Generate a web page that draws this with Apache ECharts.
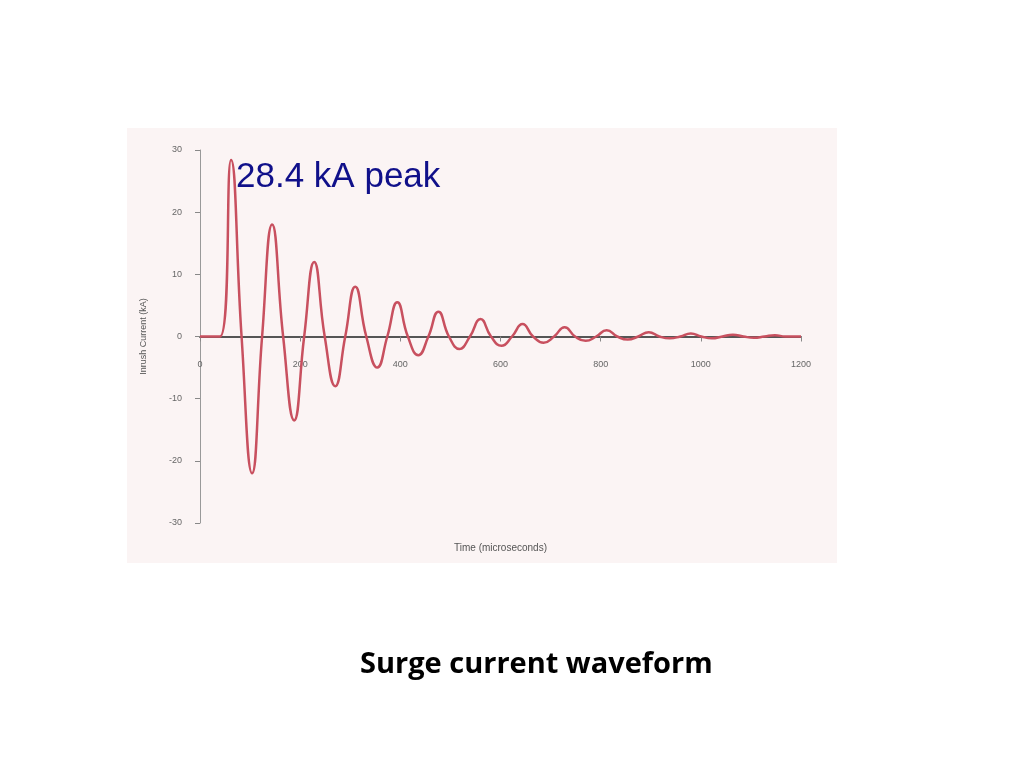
<!DOCTYPE html>
<html><head><meta charset="utf-8">
<script src="https://cdn.jsdelivr.net/npm/echarts@6/dist/echarts.min.js"></script>
<style>html,body{margin:0;background:#fff}#c{width:1024px;height:768px}</style>
</head><body><div id="c"></div>
<script>
const times = [0,40,62,83,104,124,144,166,188,208,228,249,270,290,310,332,354,374,394,415,436,456,476,497,518,539,560,581,602,623,644,665,686,707,728,749,770,791,812,833,854,875,896,917,938,959,980,1001,1022,1043,1064,1085,1106,1127,1148,1169,1200];
const current = [0,0,28.4,0,-22,0,18,0,-13.5,0,12,0,-8,0,8,0,-5,0,5.5,0,-3,0,4,0,-2,0,2.8,0,-1.5,0,2,0,-1,0,1.5,0,-0.7,0,1.0,0,-0.5,0,0.7,0,-0.3,0,0.5,0,-0.3,0,0.3,0,-0.2,0,0.2,0,0];
const yTicks = [-30,-20,-10,0,10,20,30];
const xTicks = [0,200,400,600,800,1000,1200];
const chart = echarts.init(document.getElementById('c'));
chart.setOption({
  animation:false,
  graphic:[
    {type:'rect',shape:{x:127,y:128,width:710,height:435},style:{fill:'#fbf4f4'},z:-10},
    {type:'text',left:236,top:160,style:{text:'28.4 kA peak',font:'35px "Liberation Sans", Arial',fill:'#10108a'}},
    {type:'text',left:360,top:650,style:{text:'Surge current waveform',font:'bold 29px "Open Sans", sans-serif',fill:'#000'}}
  ],
  grid:{left:200,right:223,top:150,bottom:245},
  xAxis:{type:'value',min:0,max:1200,interval:200,
    name:'Time (microseconds)',nameLocation:'middle',nameGap:20,
    nameTextStyle:{fontSize:10,color:'#555'},
    axisLine:{onZero:true,lineStyle:{color:'#555',width:2}},
    axisTick:{show:true,lineStyle:{color:'#888'}},
    axisLabel:{fontSize:9,color:'#666',margin:-163,formatter:v=>String(v)},splitLine:{show:false}},
  yAxis:{type:'value',min:-30,max:30,interval:10,
    name:'Inrush Current (kA)',nameLocation:'middle',nameGap:52,
    nameTextStyle:{fontSize:9,color:'#555'},
    axisLine:{show:true,onZero:false,lineStyle:{color:'#999'}},
    axisTick:{show:true,lineStyle:{color:'#888'}},
    axisLabel:{fontSize:9,color:'#666',margin:18},splitLine:{show:false}},
  series:[{type:'line',data:times.map((t,i)=>[t,current[i]]),smooth:0.5,symbol:'none',
    lineStyle:{color:'#c8505f',width:2.5}}]
});
</script></body></html>
